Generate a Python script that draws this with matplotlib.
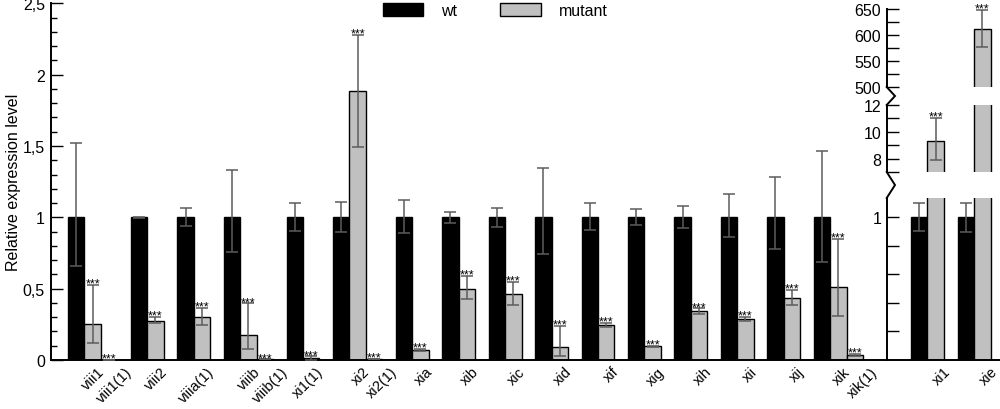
import matplotlib
matplotlib.use("Agg")
import matplotlib.pyplot as plt
from matplotlib.patches import Patch
from matplotlib.lines import Line2D

plt.rcParams['font.family'] = ['Liberation Sans', 'DejaVu Sans']

# ---------------- data ----------------
series_names = ["wt", "mutant"]

main_labels = ["viii1", "viii2", "viiia(1)", "viiib", "xi1(1)", "xi2", "xia", "xib",
               "xic", "xid", "xif", "xig", "xih", "xii", "xij", "xik"]
wt_mean = [1.0, 1.0, 1.0, 1.0, 1.0, 1.0, 1.0, 1.0, 1.0, 1.0, 1.0, 1.0, 1.0, 1.0, 1.0, 1.0]
wt_hi = [1.52, 1.005, 1.065, 1.33, 1.10, 1.105, 1.12, 1.04, 1.065, 1.345, 1.10, 1.055,
         1.08, 1.16, 1.285, 1.465]
wt_lo = [0.66, 0.995, 0.94, 0.755, 0.905, 0.895, 0.89, 0.96, 0.935, 0.745, 0.91, 0.945,
         0.925, 0.865, 0.78, 0.685]
mut_mean = [0.252, 0.276, 0.30, 0.175, 0.012, 1.884, 0.07, 0.498, 0.463, 0.089, 0.245,
            0.095, 0.34, 0.288, 0.437, 0.514]
mut_hi = [0.526, 0.30, 0.365, 0.397, 0.026, 2.28, 0.078, 0.587, 0.549, 0.241, 0.258,
          0.10, 0.362, 0.30, 0.493, 0.849]
mut_lo = [0.119, 0.257, 0.245, 0.077, 0.0, 1.49, 0.064, 0.428, 0.386, 0.03, 0.232,
          0.09, 0.32, 0.275, 0.386, 0.306]

extra_parent = ["viii1", "viiib", "xi2", "xik"]
extra_labels = ["viii1(1)", "viiib(1)", "xi2(1)", "xik(1)"]
extra_mean = [0.003, 0.004, 0.005, 0.037]
extra_hi = [0.003, 0.004, 0.006, 0.045]
extra_lo = [0.003, 0.004, 0.004, 0.030]

right_labels = ["xi1", "xie"]
right_wt_mean = [1.0, 1.0]
right_wt_hi = [1.10, 1.10]
right_wt_lo = [0.905, 0.90]
right_mut_mean = [9.3, 612.0]
right_mut_hi = [11.05, 648.0]
right_mut_lo = [7.9, 577.0]

sig_mark = "***"

main_yticks = [0, 0.5, 1, 1.5, 2, 2.5]
main_yticklabels = ["0", "0,5", "1", "1,5", "2", "2,5"]
low_yticks = [0.2, 0.4, 0.6, 0.8, 1.0]
low_yticklabels = ["", "", "", "", "1"]
mid_yticks = [7, 8, 9, 10, 11, 12]
mid_yticklabels = ["", "8", "", "10", "", "12"]
top_yticks = [500, 525, 550, 575, 600, 625, 650]
top_yticklabels = ["500", "", "550", "", "600", "", "650"]
ylabel = "Relative expression level"

# ---------------- style / layout ----------------
W_PX, H_PX = 1000, 410
FS = 11.5
XFS = 10.5
WT_COLOR = "black"
MUT_COLOR = "#c0c0c0"
ERR_COLOR = "#5c5c5c"
SPINE_LW = 1.4
GAP = 0.83


def fx(px):
    return px / W_PX


def fy(py):
    return 1 - py / H_PX


fig = plt.figure(figsize=(10, 4.1), dpi=100)

# positions of bars (bar width = 1)
x = 1.07
wt_x, mut_x, ext_x = [], [], {}
for g in main_labels:
    wt_x.append(x + 0.5)
    mut_x.append(x + 1.5)
    nb = 2
    if g in extra_parent:
        ext_x[g] = x + 2.5
        nb = 3
    x += nb + GAP
main_xmax = x - GAP + 1.45

ax = fig.add_axes([fx(50.5), fy(361), fx(886.7) - fx(50.5), fy(4.3) - fy(361)])
ax.set_xlim(0, main_xmax)
ax.set_ylim(0, 2.5)

err_kw = dict(fmt="none", ecolor=ERR_COLOR, elinewidth=1.1, capsize=4, capthick=1.1, zorder=4)

ax.bar(wt_x, wt_mean, width=1.0, color=WT_COLOR, edgecolor="black", linewidth=1.0, zorder=2)
ax.bar(mut_x, mut_mean, width=1.0, color=MUT_COLOR, edgecolor="black", linewidth=1.0, zorder=2)
ex_pos = [ext_x[p] for p in extra_parent]
ax.bar(ex_pos, extra_mean, width=1.0, color=MUT_COLOR, edgecolor="black", linewidth=1.0, zorder=2)

ax.errorbar(wt_x, wt_mean, yerr=[[m - l for m, l in zip(wt_mean, wt_lo)],
                                 [h - m for m, h in zip(wt_mean, wt_hi)]], **err_kw)
ax.errorbar(mut_x, mut_mean, yerr=[[m - l for m, l in zip(mut_mean, mut_lo)],
                                   [h - m for m, h in zip(mut_mean, mut_hi)]], **err_kw)
ax.errorbar(ex_pos, extra_mean, yerr=[[m - l for m, l in zip(extra_mean, extra_lo)],
                                      [h - m for m, h in zip(extra_mean, extra_hi)]], **err_kw)


def star(a, xx, top):
    a.annotate(sig_mark, xy=(xx, top), xytext=(0, -1.2), textcoords="offset points",
               ha="center", va="baseline", fontsize=9, color="black", zorder=5,
               annotation_clip=False)


for xx, h in zip(mut_x, mut_hi):
    star(ax, xx, h)
for xx, h in zip(ex_pos, extra_hi):
    star(ax, xx, h)

# x tick labels
tick_pos, tick_lab = [], []
for g, mx in zip(main_labels, mut_x):
    tick_pos.append(mx + 0.3)
    tick_lab.append(g)
for p, lab in zip(extra_parent, extra_labels):
    tick_pos.append(ext_x[p] + 0.95)
    tick_lab.append(lab)
ax.set_xticks(tick_pos)
ax.set_xticklabels(tick_lab, rotation=45, ha="right", rotation_mode="anchor", fontsize=XFS)
ax.tick_params(axis="x", length=0, pad=3)

ax.set_yticks(main_yticks)
ax.set_yticklabels(main_yticklabels, fontsize=FS)
ax.set_yticks([v / 10 for v in range(0, 26)], minor=True)
ax.tick_params(axis="y", which="major", direction="in", length=8.6, width=1.0, pad=4)
ax.tick_params(axis="y", which="minor", direction="in", length=4.3, width=1.0)
ax.set_ylabel(ylabel, fontsize=FS, labelpad=1)
for s in ["top", "right"]:
    ax.spines[s].set_visible(False)
for s in ["left", "bottom"]:
    ax.spines[s].set_linewidth(SPINE_LW)

# ---------------- right broken panel ----------------
rx = 1.46
r_wt_x, r_mut_x = [], []
for g in right_labels:
    r_wt_x.append(rx + 0.5)
    r_mut_x.append(rx + 1.5)
    rx += 2 + GAP
r_xmax = rx - GAP + 0.57

rl, rw = fx(886.7), fx(1000) - fx(886.7)
ax_lo = fig.add_axes([rl, fy(361), rw, fy(199) - fy(361)])
ax_mid = fig.add_axes([rl, fy(173), rw, fy(106) - fy(173)])
ax_top = fig.add_axes([rl, fy(88), rw, fy(10) - fy(88)])
ax_lo.set_ylim(0, (361 - 199) / 142.6)
ax_mid.set_ylim(7, 12)
ax_top.set_ylim(500, 650)

for a, ticks, labs in [(ax_lo, low_yticks, low_yticklabels),
                       (ax_mid, mid_yticks, mid_yticklabels),
                       (ax_top, top_yticks, top_yticklabels)]:
    a.set_xlim(0, r_xmax)
    a.patch.set_alpha(0)
    a.bar(r_wt_x, right_wt_mean, width=1.0, color=WT_COLOR, edgecolor="black", linewidth=1.0, zorder=2)
    a.bar(r_mut_x, right_mut_mean, width=1.0, color=MUT_COLOR, edgecolor="black", linewidth=1.0, zorder=2)
    a.errorbar(r_wt_x, right_wt_mean,
               yerr=[[m - l for m, l in zip(right_wt_mean, right_wt_lo)],
                     [h - m for m, h in zip(right_wt_mean, right_wt_hi)]], **err_kw)
    a.errorbar(r_mut_x, right_mut_mean,
               yerr=[[m - l for m, l in zip(right_mut_mean, right_mut_lo)],
                     [h - m for m, h in zip(right_mut_mean, right_mut_hi)]], **err_kw)
    a.set_yticks(ticks)
    a.set_yticklabels(labs, fontsize=FS)
    a.tick_params(axis="y", direction="in", length=8.6, width=1.0, pad=4)
    for s in ["top", "right", "bottom"]:
        a.spines[s].set_visible(False)
    a.spines["left"].set_linewidth(SPINE_LW)
    if a is not ax_lo:
        a.set_xticks([])

ax_lo.spines["bottom"].set_visible(True)
ax_lo.spines["bottom"].set_linewidth(SPINE_LW)
ax_lo.set_xticks([m + 0.5 for m in r_mut_x])
ax_lo.set_xticklabels(right_labels, rotation=45, ha="right", rotation_mode="anchor", fontsize=XFS)
ax_lo.tick_params(axis="x", length=0, pad=3)

star(ax_mid, r_mut_x[0], right_mut_hi[0])
star(ax_top, r_mut_x[1], right_mut_hi[1])

# break zigzags on the right axis
for y0, y1 in [(88, 106), (173, 199)]:
    fig.add_artist(Line2D([fx(886.7), fx(895), fx(886.7)],
                          [fy(y0), fy((y0 + y1) / 2), fy(y1)],
                          transform=fig.transFigure, color="black", lw=SPINE_LW,
                          solid_joinstyle="miter"))

# legend
handles = [Patch(facecolor=WT_COLOR, edgecolor="black", linewidth=1.0),
           Patch(facecolor=MUT_COLOR, edgecolor="black", linewidth=1.0)]
fig.legend(handles=handles, labels=series_names, ncol=2, frameon=False, loc="upper left",
           bbox_to_anchor=(fx(382.7), fy(4)), fontsize=FS, handlelength=2.55,
           handleheight=0.83, handletextpad=1.1, columnspacing=2.7, borderpad=0,
           borderaxespad=0)

fig.savefig("out.png", dpi=100)
